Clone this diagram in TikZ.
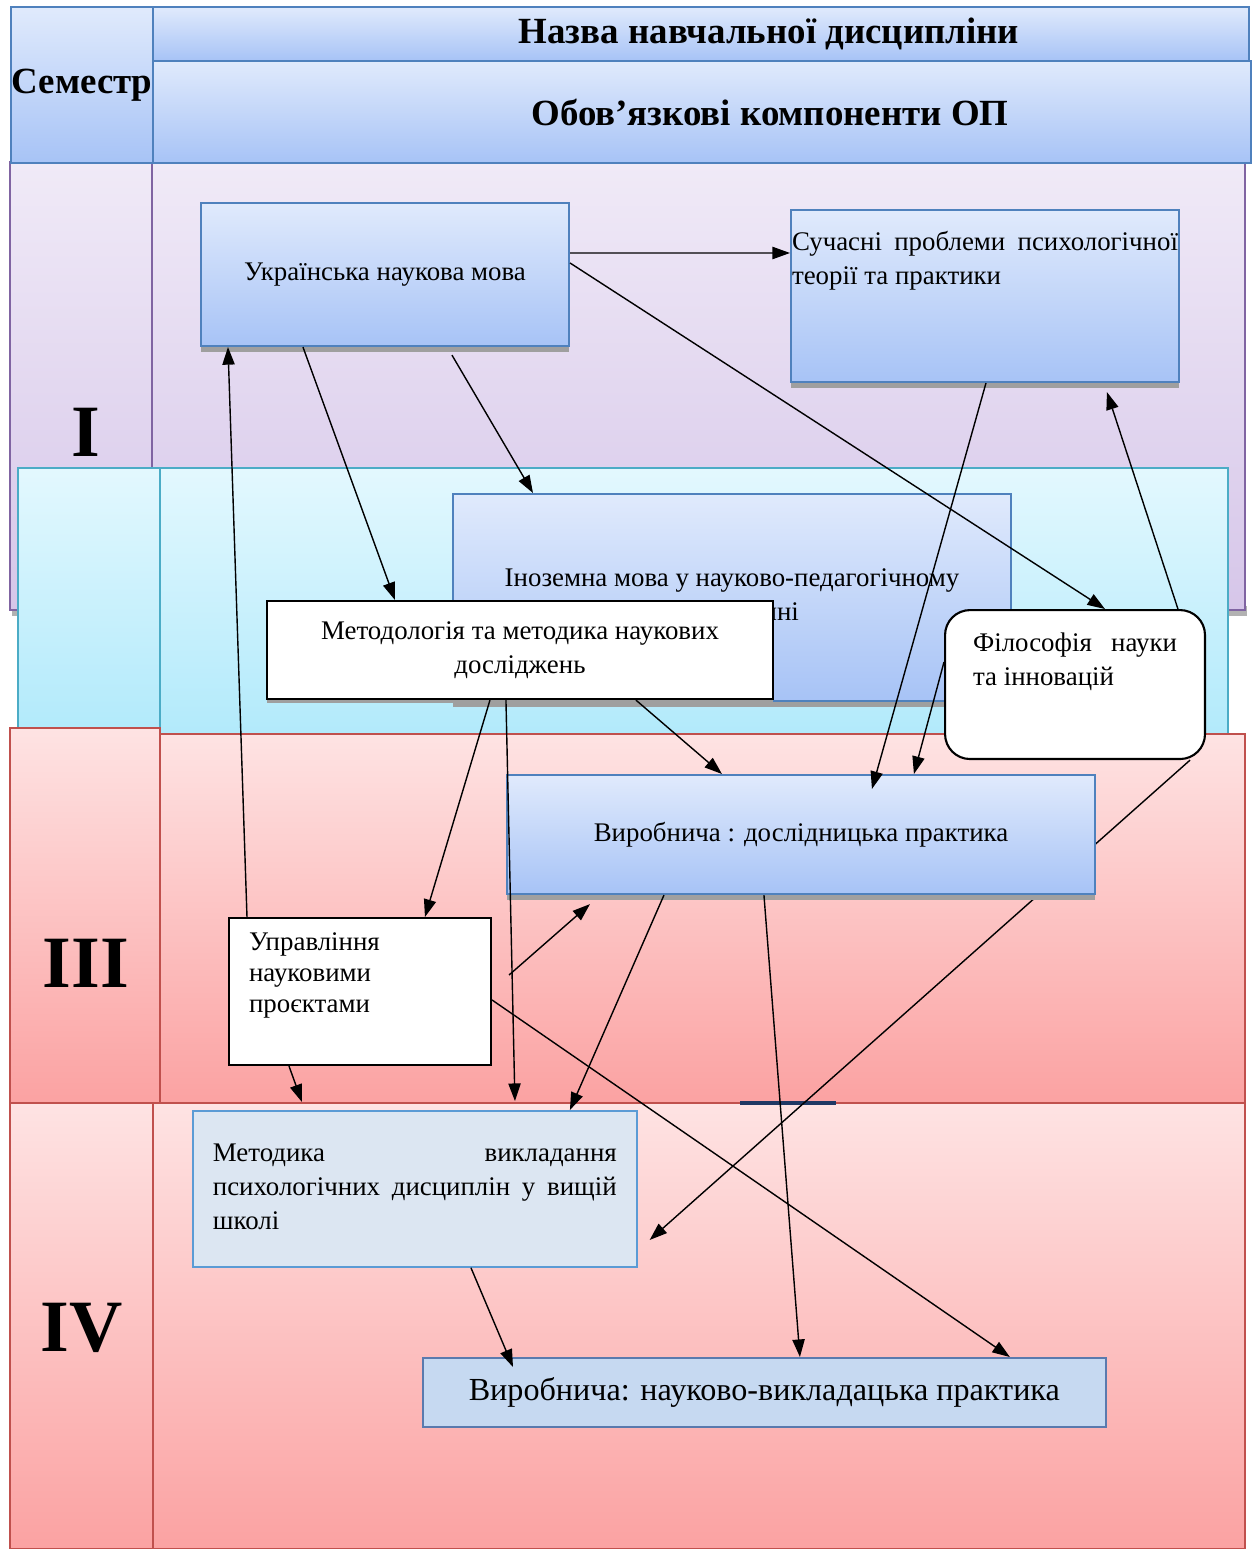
\documentclass[tikz,border=0pt]{standalone}
\usepackage{fontspec}
\setmainfont{Liberation Serif}
\usetikzlibrary{arrows.meta, shadows}
\hyphenpenalty=10000
\exhyphenpenalty=10000

\definecolor{hdrtop}{HTML}{E0EAFC}
\definecolor{hdrbot}{HTML}{A7C3F6}
\definecolor{hdrline}{HTML}{4F81BD}
\definecolor{purtop}{HTML}{F0EAF7}
\definecolor{purbot}{HTML}{D6C6E9}
\definecolor{purline}{HTML}{8064A2}
\definecolor{cyantop}{HTML}{E3F8FE}
\definecolor{cyanbot}{HTML}{B2EAFB}
\definecolor{cyanline}{HTML}{4BACC6}
\definecolor{redtop}{HTML}{FEE3E3}
\definecolor{redbot}{HTML}{FBA2A2}
\definecolor{redline}{HTML}{C0504D}
\definecolor{paletop}{HTML}{DCE6F2}
\definecolor{paleline}{HTML}{5B9BD5}
\definecolor{vyklfill}{HTML}{C6D9F1}
\definecolor{vyklline}{HTML}{5A7AAE}
\definecolor{navyline}{HTML}{1F3864}

\tikzset{
    bodytext/.style={font=\fontsize{15.3}{19.3}\selectfont},
    hdrcell/.style={rectangle, draw=hdrline, line width=1.2pt, top color=hdrtop, bottom color=hdrbot, inner sep=0pt, anchor=north west, font=\fontsize{21}{24}\selectfont\bfseries},
    semlabel/.style={font=\fontsize{42}{46}\selectfont\bfseries},
    bluebox/.style={rectangle, draw=hdrline, line width=1.2pt, top color=hdrtop, bottom color=hdrbot, inner sep=0pt, anchor=north west, bodytext,
        drop shadow={shadow xshift=0cm, shadow yshift=-0.12cm, fill=gray!75, opacity=1}},
    whitebox/.style={rectangle, draw, line width=1.2pt, fill=white, inner sep=0pt, anchor=north west, bodytext},
    arrow/.style={-{Triangle[length=10pt, width=7pt]}, line width=0.8pt}
}

\begin{document}
\begin{tikzpicture}[x=0.02cm, y=-0.02cm]
    \useasboundingbox (0,0) rectangle (1252,1549);
    \fill[white] (0,0) rectangle (1252,1549);

    % semester bands
    \fill[gray!60] (12,606) rectangle (1247,616);
    \path[draw=purline, line width=1pt, top color=purtop, bottom color=purbot] (10,162) rectangle (152,610);
    \path[draw=purline, line width=1pt, top color=purtop, bottom color=purbot] (152,162) rectangle (1245,610);
    \path[draw=cyanline, line width=1pt, top color=cyantop, bottom color=cyanbot] (18,468) rectangle (160,730);
    \path[draw=cyanline, line width=1pt, top color=cyantop, bottom color=cyanbot] (160,468) rectangle (1228,735);
    \path[draw=redline, line width=1pt, top color=redtop, bottom color=redbot] (152,734) rectangle (1245,1103);
    \path[draw=redline, line width=1pt, top color=redtop, bottom color=redbot] (10,728) rectangle (160,1103);
    \path[draw=redline, line width=1pt, top color=redtop, bottom color=redbot] (10,1103) rectangle (153,1549);
    \path[draw=redline, line width=1pt, top color=redtop, bottom color=redbot] (153,1103) rectangle (1245,1549);
    \draw[line width=2pt, navyline] (740,1103) -- (836,1103);

    % header
    \node[hdrcell, minimum width=2.84cm, minimum height=3.12cm] (semestr) at (10,6) {Семестр};
    \node[hdrcell, minimum width=21.92cm, minimum height=1.08cm] (nazva) at (152,6) {\hspace*{2.72cm}Назва навчальної дисципліни};
    \node[hdrcell, minimum width=21.96cm, minimum height=2.04cm] (oblig) at (152,60) {\hspace*{2.72cm}Обов’язкові компоненти ОП};

    \node[semlabel] (semI) at (86,432) {I};
    \node[semlabel] (semIII) at (86,963) {III};
    \node[semlabel] (semIV) at (82,1328) {IV};

    % disciplines
    \node[bluebox, minimum width=7.36cm, minimum height=2.86cm] (ukr) at (200,202) {Українська наукова мова};
    \node[bluebox, minimum width=7.76cm, minimum height=3.44cm] (such) at (790,209)
        {\parbox[c][3.44cm][t]{7.72cm}{\vspace*{0.42cm}Сучасні проблеми психологічної теорії та практики}};
    \node[bluebox, minimum width=11.16cm, minimum height=4.14cm, align=center] (inozem) at (452,493)
        {Іноземна мова у науково-педагогічному\\спілкуванні};
    \node[whitebox, rounded corners=0.5cm, minimum width=5.2cm, minimum height=2.98cm] (filos) at (944,609)
        {\parbox[c][2.98cm][t]{4.08cm}{\vspace*{0.46cm}Філософія науки\linebreak та інновацій}};
    \node[rectangle, draw=paleline, line width=1pt, fill=paletop, inner sep=0pt, anchor=north west, bodytext,
        minimum width=8.88cm, minimum height=3.12cm] (metodyka) at (192,1110)
        {\parbox[c][3.12cm][t]{8.08cm}{\vspace*{0.66cm}Методика викладання\linebreak психологічних дисциплін у вищій\linebreak школі}};
    \node[whitebox, minimum width=5.24cm, minimum height=2.94cm] (uprav) at (228,917)
        {\parbox[c][2.94cm][t]{4.44cm}{\fontsize{15.3}{17.6}\selectfont\raggedright\vspace*{0.3cm}Управління\\ науковими\\ проєктами}};
    \node[whitebox, minimum width=10.12cm, minimum height=1.96cm, align=center,
        drop shadow={shadow xshift=0cm, shadow yshift=-0.08cm, fill=gray!75, opacity=1}] (metod) at (266,600)
        {Методологія та методика наукових\\досліджень};

    \draw[arrow] ([xshift=-0.32cm]filos.south east) -- ([xshift=0.24cm, yshift=-2.6cm]metodyka.north east);

    \node[bluebox, minimum width=11.76cm, minimum height=2.38cm] (vyrob) at (506,774) {Виробнича : дослідницька практика};
    \node[rectangle, draw=vyklline, line width=1pt, fill=vyklfill, inner sep=0pt, anchor=north west,
        minimum width=13.66cm, minimum height=1.38cm, font=\fontsize{18.3}{22}\selectfont] (vykl) at (422,1357)
        {Виробнича: науково-викладацька практика};

    % links
    \draw[arrow] ([yshift=-1.02cm]ukr.north east) -- ([yshift=-0.88cm]such.north west);
    \draw[arrow] ([yshift=-1.22cm]ukr.north east) -- ([xshift=3.22cm]filos.north west);
    \draw[arrow] ([xshift=2.06cm]ukr.south west) -- ([xshift=2.58cm]metod.north west);
    \draw[arrow] ([xshift=5.04cm, yshift=-0.16cm]ukr.south west) -- ([xshift=1.62cm]inozem.north west);
    \draw[arrow] ([xshift=0.38cm]uprav.north west) -- ([xshift=0.56cm]ukr.south west);
    \draw[arrow] ([xshift=3.92cm]such.south west) -- ([xshift=7.32cm, yshift=-0.3cm]vyrob.north west);
    \draw[arrow] ([xshift=4.68cm]filos.north west) -- ([xshift=6.34cm, yshift=-0.18cm]such.south west);
    \draw[arrow] ([yshift=-1.06cm]filos.north west) -- ([xshift=8.16cm]vyrob.north west);
    \draw[arrow] ([xshift=4.48cm]metod.south west) -- ([xshift=3.94cm]uprav.north west);
    \draw[arrow] ([xshift=4.8cm]metod.south west) -- ([xshift=6.46cm, yshift=0.18cm]metodyka.north west);
    \draw[arrow] ([xshift=7.4cm]metod.south west) -- ([xshift=4.32cm]vyrob.north west);
    \draw[arrow] ([xshift=0.34cm, yshift=-1.16cm]uprav.north east) -- ([xshift=1.68cm, yshift=-0.18cm]vyrob.south west);
    \draw[arrow] ([yshift=-1.66cm]uprav.north east) -- ([xshift=11.76cm]vykl.north west);
    \draw[arrow] ([xshift=1.22cm]uprav.south west) -- ([xshift=2.2cm, yshift=0.16cm]metodyka.north west);
    \draw[arrow] ([xshift=3.16cm]vyrob.south west) -- ([xshift=7.56cm]metodyka.north west);
    \draw[arrow] ([xshift=5.16cm]vyrob.south west) -- ([xshift=7.56cm]vykl.north west);
    \draw[arrow] ([xshift=5.58cm]metodyka.south west) -- ([xshift=1.82cm, yshift=-0.2cm]vykl.north west);
\end{tikzpicture}
\end{document}
